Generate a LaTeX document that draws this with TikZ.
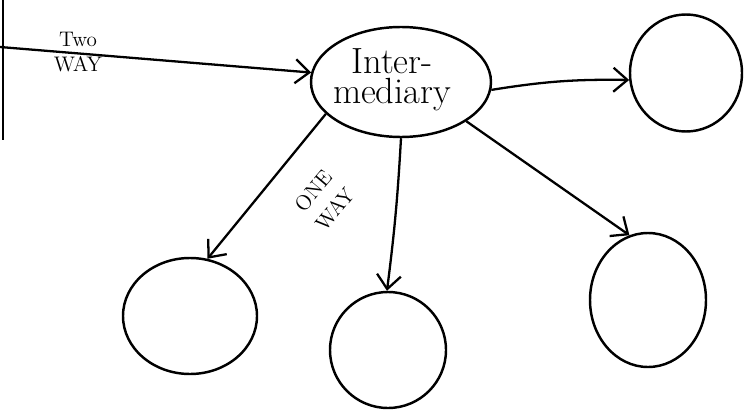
\documentclass[tikz,border=0pt]{standalone}
\usepackage{tikz}
\usetikzlibrary{arrows.meta}
\usetikzlibrary{positioning,shapes.geometric}

\begin{document}
\begin{tikzpicture}[
x=0.2mm, y=-0.2mm,
MyBlobs/.style={draw=black,ellipse,line width=1.4pt,inner sep=0pt},
Links/.style={draw=black,line width=1.3pt,-{Straight Barb[length=2.8mm, width=4.8mm, line width=1.3pt]}},
MyLabels/.style={align=center,inner sep=1pt,font=\large}
]
\useasboundingbox (0,0) rectangle (750,419);

\coordinate (A) at (401,82);
\coordinate (B) at (686,73);
\coordinate (C) at (190,316);
\coordinate (D) at (388,350);
\coordinate (E) at (648,300);
\coordinate (F) at (0,47);

% the wall on the left
\draw[black,line width=1.4pt] (3,0)--(3,140);

\node[MyBlobs, minimum width=36mm, minimum height=22mm] (Inter) at (A) {};
\node[MyBlobs, minimum width=22.4mm, minimum height=23.4mm] (Top) at (B) {};
\node[MyBlobs, minimum width=26.8mm, minimum height=23.2mm] (Left) at (C) {};
\node[MyBlobs, minimum width=23.2mm, minimum height=23.2mm] (Mid) at (D) {};
\node[MyBlobs, minimum width=23.2mm, minimum height=26.8mm] (Right) at (E) {};

\node[MyLabels, font=\huge] at (392,80) {Inter-\\[-8pt]mediary};
\node[MyLabels] at (78,52) {Two\\WAY};
\node[MyLabels, rotate=50] at (324,200) {ONE\\[2pt]WAY};

\draw[Links] (F)--(Inter.174);
\draw[Links] (Inter.355) to[bend left=5] (Top.187);
\draw[Links] (Inter.203)--(Left.73);
\draw[Links] (Inter.270) to[bend left=2] (Mid.91);
\draw[Links] (Inter.329)--(Right.106);

\end{tikzpicture}
\end{document}
